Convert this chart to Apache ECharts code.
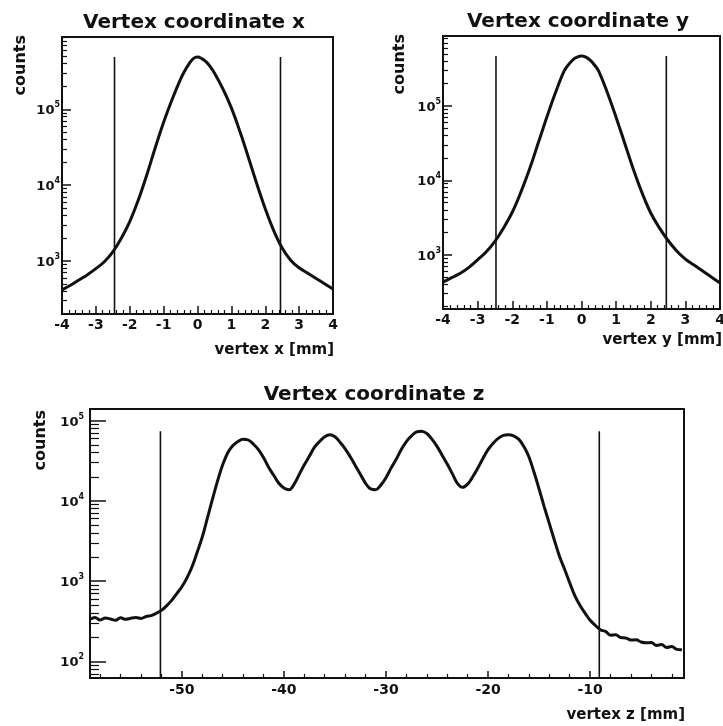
<!DOCTYPE html>
<html><head><meta charset="utf-8">
<script src="https://cdn.jsdelivr.net/npm/echarts@6/dist/echarts.min.js"></script>
<style>html,body{margin:0;padding:0;background:#fff}#c{width:723px;height:726px}</style>
</head><body><div id="c"></div>
<script>
// ---------- data ----------
const xPos = [-4,-3.75,-3.5,-3.25,-3,-2.75,-2.5,-2.25,-2,-1.75,-1.5,-1.25,-1,-0.75,-0.5,-0.375,-0.25,-0.125,0,0.125,0.25,0.375,0.5,0.75,1,1.25,1.5,1.75,2,2.25,2.5,2.75,3,3.25,3.5,3.75,4];
const xCounts = [417,479,562,661,794,977,1318,1995,3311,6310,13490,30900,67600,134900,251200,323600,398100,467700,489800,467700,426600,367000,302000,186200,104700,51300,23400,10470,4900,2512,1479,1023,813,692,589,501,427];

const yPos = [-4,-3.75,-3.5,-3.25,-3,-2.75,-2.5,-2.25,-2,-1.75,-1.5,-1.25,-1,-0.75,-0.5,-0.375,-0.25,-0.125,0,0.125,0.25,0.375,0.5,0.75,1,1.25,1.5,1.75,2,2.25,2.5,2.75,3,3.25,3.5,3.75,4];
const yCounts = [427,490,562,676,851,1096,1514,2291,3715,6918,14130,31620,70790,151400,295100,359000,416900,451900,467700,451900,412000,354800,291000,149000,70000,31300,14000,6761,3631,2291,1549,1122,871,724,603,501,417];

const zPos = [-59,-58.5,-58,-57.5,-57,-56.5,-56,-55.5,-55,-54.5,
  -54,-53.5,-53,-52.5,-52,-51.5,-51,-50.5,-50,-49.5,
  -49,-48.5,-48,-47.5,-47,-46.5,-46,-45.5,-45,-44.5,
  -44,-43.5,-43,-42.5,-42,-41.5,-41,-40.5,-40,-39.5,
  -39,-38.5,-38,-37.5,-37,-36.5,-36,-35.5,-35,-34.5,
  -34,-33.5,-33,-32.5,-32,-31.5,-31,-30.5,-30,-29.5,
  -29,-28.5,-28,-27.5,-27,-26.5,-26,-25.5,-25,-24.5,
  -24,-23.5,-23,-22.5,-22,-21.5,-21,-20.5,-20,-19.5,
  -19,-18.5,-18,-17.5,-17,-16.5,-16,-15.5,-15,-14.5,
  -14,-13.5,-13,-12.5,-12,-11.5,-11,-10.5,-10,-9.5,
  -9,-8.5,-8,-7.5,-7,-6.5,-6,-5.5,-5,-4.5,
  -4,-3.5,-3,-2.5,-2,-1.5,-1];
const zCounts = [335,352,328,346,338,326,349,334,345,351,
  343,362,372,398,432,492,575,700,850,1100,
  1510,2290,3550,6100,10500,17800,28200,39800,49000,55000,
  58900,57500,51300,43600,34700,26300,20900,16600,14500,13800,
  16200,21400,28200,36300,46800,55000,63100,66800,63100,54000,
  44700,35500,27500,21400,16600,14100,13800,15800,19500,25700,
  33100,43700,55000,64600,72400,74100,69200,58900,47900,37200,
  28800,21900,16600,14800,16200,20000,25700,33900,43700,52500,
  60300,65600,66800,64600,58900,47900,35500,22900,14100,8500,
  5250,3240,2040,1410,955,660,500,400,325,282,
  248,236,212,214,198,196,184,186,174,170,
  172,158,162,149,153,141,140];

// cut lines
const cutsX = [-2.45, 2.45];
const cutTopX = 490000;
const cutsY = [-2.47, 2.45];
const cutTopY = 470000;
const cutsZ = [-52.1, -9.1];
const cutTopZ = 74000;

// axis ranges
const xRange = [-4, 4];
const xCountRange = [200, 900000];
const yCountRange = [186, 870000];
const zRange = [-59, -0.8];
const zCountRange = [62, 140000];

// tick values
const zMajorTicks = [-50, -40, -30, -20, -10];
const zMinorTicks = [-58,-56,-54,-52,-48,-46,-44,-42,-38,-36,-34,-32,-28,-26,-24,-22,-18,-16,-14,-12,-8,-6,-4,-2];
const decadesTop = [1000, 10000, 100000];
const minorsTop = [300,400,500,600,700,800,900,2000,3000,4000,5000,6000,7000,8000,9000,20000,30000,40000,50000,60000,70000,80000,90000,200000,300000,400000,500000,600000,700000,800000,900000];
const minorsTopY = [200,300,400,500,600,700,800,900,2000,3000,4000,5000,6000,7000,8000,9000,20000,30000,40000,50000,60000,70000,80000,90000,200000,300000,400000,500000,600000,700000,800000];
const decadesZ = [100, 1000, 10000, 100000];
const minorsZ = [70,80,90,200,300,400,500,600,700,800,900,2000,3000,4000,5000,6000,7000,8000,9000,20000,30000,40000,50000,60000,70000,80000,90000];

// texts
const titles = ['Vertex coordinate x', 'Vertex coordinate y', 'Vertex coordinate z'];
const xNames = ['vertex x [mm]', 'vertex y [mm]', 'vertex z [mm]'];
const yName = 'counts';

// ---------- chart ----------
const FONT = 'DejaVu Sans';
const INK = '#111';

function pairs(xs, ys) { return xs.map((x, i) => [x, ys[i]]); }

function decadeLabel(v) {
  const e = Math.round(Math.log10(v));
  return '{b|10}{s|' + e + '}';
}
const richSup = {
  b: { fontFamily: FONT, fontWeight: 'bold', fontSize: 13, color: INK, lineHeight: 16, verticalAlign: 'bottom' },
  s: { fontFamily: FONT, fontWeight: 'bold', fontSize: 8, color: INK, lineHeight: 8, verticalAlign: 'top' }
};

function grid(left, top, width, height) {
  return { left, top, width, height, show: true, borderColor: INK, borderWidth: 2,
           backgroundColor: 'transparent', containLabel: false, outerBoundsMode: 'none' };
}

function xMajorValue(gi, range, majorLen, minorLen) {
  return {
    gridIndex: gi, type: 'value', position: 'bottom', min: range[0], max: range[1], interval: 1,
    axisLine: { show: false, onZero: false },
    axisTick: { show: true, inside: true, length: majorLen, lineStyle: { color: INK, width: 1.5 } },
    minorTick: { show: true, splitNumber: 5, length: minorLen, lineStyle: { color: INK, width: 1.2 } },
    axisLabel: { margin: 4, fontFamily: FONT, fontWeight: 'bold', fontSize: 14, color: INK },
    splitLine: { show: false }, minorSplitLine: { show: false }
  };
}

function logMajor(gi, range, ticks, len, margin) {
  return {
    gridIndex: gi, type: 'log', logBase: 10, position: 'left', min: range[0], max: range[1],
    axisLine: { show: false, onZero: false },
    axisTick: { show: true, inside: true, length: len, customValues: ticks, lineStyle: { color: INK, width: 1.5 } },
    axisLabel: { show: true, margin: margin, customValues: ticks, formatter: decadeLabel, rich: richSup },
    splitLine: { show: false }
  };
}
function logMinor(gi, range, ticks, len) {
  return {
    gridIndex: gi, type: 'log', logBase: 10, position: 'left', offset: 0, min: range[0], max: range[1],
    axisLine: { show: false, onZero: false },
    axisTick: { show: true, inside: true, length: len, customValues: ticks, lineStyle: { color: INK, width: 1.2 } },
    axisLabel: { show: false },
    splitLine: { show: false }
  };
}

function curve(xi, yi, data, sm) {
  return { type: 'line', xAxisIndex: xi, yAxisIndex: yi, data, symbol: 'none', smooth: sm,
           lineStyle: { color: INK, width: 3 }, silent: true, z: 3 };
}
function cut(xi, yi, x, yLow, yTop) {
  return { type: 'line', xAxisIndex: xi, yAxisIndex: yi, data: [[x, yLow], [x, yTop]], symbol: 'none',
           lineStyle: { color: INK, width: 1.6 }, silent: true, z: 2 };
}

function txt(x, y, text, size, align, rot) {
  return { type: 'text', x, y, rotation: rot || 0, silent: true,
    style: { text, font: 'bold ' + size + 'px "' + FONT + '"', fill: INK,
             align: align, verticalAlign: 'middle', textAlign: align, textVerticalAlign: 'middle' } };
}

const chart = echarts.init(document.getElementById('c'), null, { renderer: 'canvas' });
const option = {
  animation: false,
  backgroundColor: '#fff',
  grid: [ grid(62, 37, 271, 277), grid(443, 36, 277, 273), grid(90, 409, 594, 269) ],
  xAxis: [
    xMajorValue(0, xRange, 8, 4),
    xMajorValue(1, xRange, 8, 4),
    { gridIndex: 2, type: 'value', position: 'bottom', min: zRange[0], max: zRange[1],
      axisLine: { show: false, onZero: false },
      axisTick: { show: true, inside: true, length: 7, customValues: zMajorTicks, lineStyle: { color: INK, width: 1.5 } },
      axisLabel: { margin: 5, customValues: zMajorTicks, fontFamily: FONT, fontWeight: 'bold', fontSize: 14, color: INK },
      splitLine: { show: false } },
    { gridIndex: 2, type: 'value', position: 'bottom', offset: 0, min: zRange[0], max: zRange[1],
      axisLine: { show: false, onZero: false },
      axisTick: { show: true, inside: true, length: 4, customValues: zMinorTicks, lineStyle: { color: INK, width: 1.2 } },
      axisLabel: { show: false }, splitLine: { show: false } }
  ],
  yAxis: [
    logMajor(0, xCountRange, decadesTop, 9, 2),
    logMinor(0, xCountRange, minorsTop, 5),
    logMajor(1, yCountRange, decadesTop, 9, 2),
    logMinor(1, yCountRange, minorsTopY, 5),
    logMajor(2, zCountRange, decadesZ, 16, 6),
    logMinor(2, zCountRange, minorsZ, 9)
  ],
  series: [
    curve(0, 0, pairs(xPos, xCounts), 0.4),
    cut(0, 0, cutsX[0], xCountRange[0], cutTopX),
    cut(0, 0, cutsX[1], xCountRange[0], cutTopX),
    curve(1, 2, pairs(yPos, yCounts), 0.4),
    cut(1, 2, cutsY[0], yCountRange[0], cutTopY),
    cut(1, 2, cutsY[1], yCountRange[0], cutTopY),
    curve(2, 4, pairs(zPos, zCounts), 0.4),
    cut(2, 4, cutsZ[0], zCountRange[0], cutTopZ),
    cut(2, 4, cutsZ[1], zCountRange[0], cutTopZ)
  ],
  graphic: [
    txt(194, 23, titles[0], 20, 'center'),
    txt(578, 22, titles[1], 20, 'center'),
    txt(374, 395, titles[2], 20, 'center'),
    txt(21, 35, yName, 16, 'right', Math.PI / 2),
    txt(400, 34, yName, 16, 'right', Math.PI / 2),
    txt(41, 410, yName, 16, 'right', Math.PI / 2),
    txt(334, 350, xNames[0], 15, 'right'),
    txt(722, 340, xNames[1], 15, 'right'),
    txt(685, 715, xNames[2], 15, 'right')
  ]
};
chart.setOption(option);
</script>
</body></html>
